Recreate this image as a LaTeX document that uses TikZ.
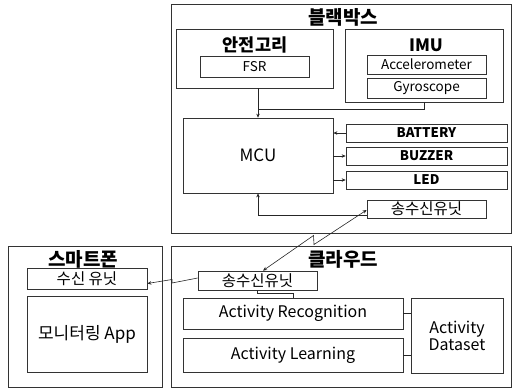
\documentclass[tikz,border=0pt]{standalone}
\usepackage{fontspec}
\setmainfont{Noto Sans CJK KR}
\usetikzlibrary{arrows.meta}
\newcommand{\fs}[1]{\fontsize{#1}{#1}\selectfont}
\begin{document}
\begin{tikzpicture}[x=1pt,y=-1pt,
  box/.style={draw=black!80, line width=0.7pt, rectangle, inner sep=0pt, anchor=center},
  ttl/.style={inner sep=0pt, font=\bfseries\fs{19}},
  sub/.style={inner sep=0pt, font=\bfseries\fs{17.5}},
  conn/.style={draw=black!85, line width=0.6pt},
  arr/.style={conn, -{Stealth[length=4pt,width=3.5pt]}},
  darr/.style={conn, {Stealth[length=4pt,width=3.5pt]}-{Stealth[length=4pt,width=3.5pt]}}
]
\useasboundingbox (0,0) rectangle (513,389);
% black box
\node[box, minimum width=340pt, minimum height=229pt] (bb) at (341,118.5) {};
\node[ttl] (bbt) at (343,17) {블랙박스};
\node[box, minimum width=157pt, minimum height=59pt] (sg) at (254.5,58.5) {};
\node[sub] (sgt) at (255,44.5) {안전고리};
\node[box, minimum width=109pt, minimum height=21pt, font=\fs{13.5}] (fsr) at (254.5,66.5) {FSR};
\node[box, minimum width=158pt, minimum height=73pt] (imu) at (424,65.5) {};
\node[sub, font=\bfseries\fs{17}] (imut) at (426,45.5) {IMU};
\node[box, minimum width=119pt, minimum height=19pt, font=\fs{13.5}] (acc) at (426.5,64.5) {Accelerometer};
\node[box, minimum width=119pt, minimum height=20pt, font=\fs{13.5}] (gyr) at (426.5,88) {Gyroscope};
\node[box, minimum width=150pt, minimum height=75pt, font=\fs{17}] (mcu) at (258,155.5) {MCU};
\node[box, minimum width=161pt, minimum height=18pt, font=\bfseries\fs{13.3}] (bat) at (426.5,133) {BATTERY};
\node[box, minimum width=161pt, minimum height=18pt, font=\bfseries\fs{13.3}] (buz) at (426.5,156) {BUZZER};
\node[box, minimum width=161pt, minimum height=18pt, font=\bfseries\fs{13.3}] (led) at (426.5,180) {LED};
\node[box, minimum width=119pt, minimum height=18pt, font=\fs{15.5}] (tx1) at (426.5,209) {송수신유닛};
% smartphone
\node[box, minimum width=154pt, minimum height=141pt] (ph) at (85,316.5) {};
\node[ttl] (pht) at (83,259) {스마트폰};
\node[box, minimum width=120pt, minimum height=21pt, font=\fs{15.5}] (rx) at (87,278.5) {수신 유닛};
\node[box, minimum width=120pt, minimum height=76pt, font=\fs{17}] (app) at (87,334) {모니터링 App};
% cloud
\node[box, minimum width=340pt, minimum height=141pt] (cl) at (341,316.5) {};
\node[ttl] (clt) at (343,259) {클라우드};
\node[box, minimum width=119pt, minimum height=19pt, font=\fs{15.5}] (tx2) at (257.5,280.5) {송수신유닛};
\node[box, minimum width=220pt, minimum height=31pt, font=\fs{16}] (ar) at (293,313.5) {Activity Recognition};
\node[box, minimum width=220pt, minimum height=34pt, font=\fs{16}] (al) at (293,355) {Activity Learning};
\node[box, minimum width=92pt, minimum height=75pt, font=\fs{16}, align=center] (ds) at (457,335.5) {Activity\\[1pt]Dataset};
% connectors in black box
\draw[arr] (mcu.north |- sg.south) -- (mcu.north);
\coordinate (j) at (258,109);
\draw[conn] (imu.south) |- (j);
\draw[arr] (bat.west) -- (bat.west -| mcu.east);
\draw[arr] (buz.west -| mcu.east) -- (buz.west);
\draw[arr] (led.west -| mcu.east) -- (led.west);
\draw[arr] ([yshift=-6pt]tx1.west) -| (mcu.south);
% lightning links
\coordinate (z1) at (314,244.5);
\coordinate (z2) at (313.5,235.5);
\draw[darr] ([yshift=-1pt]tx1.west) -- (z1) -- (z2) -- ([xshift=5.5pt]tx2.north);
\coordinate (z3) at (172,283);
\coordinate (z4) at (172,279.5);
\draw[conn, -{Stealth[length=4pt,width=3.5pt]}] ([yshift=2.5pt]tx2.west) -- (z3) -- (z4) -- ([yshift=-5pt]rx.east);
% cloud internal
\coordinate (k1) at (257,293);
\coordinate (k2) at (293,293);
\draw[conn] (tx2.south -| k1) -- (k1) -- (k2) -- (ar.north -| k2);
\draw[conn] (ar.east) -- (ar.east -| ds.west);
\draw[conn] (al.east) -- (al.east -| ds.west);
\end{tikzpicture}
\end{document}
